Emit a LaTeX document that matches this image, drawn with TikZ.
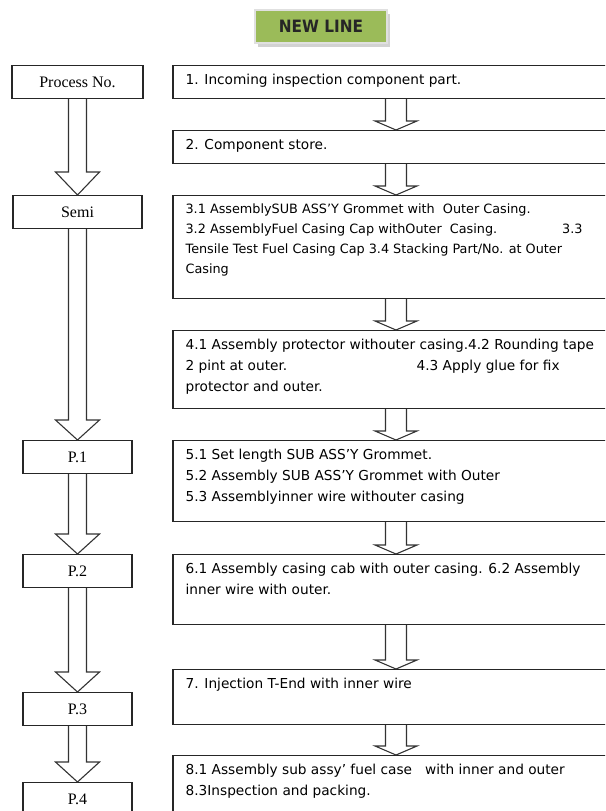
\documentclass[tikz,border=0pt]{standalone}
\usepackage{fontspec}
\setmainfont{Liberation Serif}
\newfontfamily\boxfont{DejaVu Sans}
\newfontfamily\headfont[FakeStretch=0.9]{DejaVu Sans}
\usetikzlibrary{calc,shadows}

\definecolor{titlegreen}{HTML}{9BBB59}

\tikzset{
    stepbox/.style={draw=black!85, line width=1.2pt, rectangle, inner sep=0pt, anchor=north},
    procbox/.style={stepbox, minimum height=33pt, font=\fontsize{16}{18}\selectfont},
    linebox/.style={stepbox, minimum width=446pt},
    steptext/.style={align=left, inner sep=0pt, anchor=north west,
        font=\boxfont\fontsize{13.7}{21}\selectfont},
    smalltext/.style={steptext, font=\boxfont\fontsize{12.8}{20}\selectfont},
    arrowbody/.style={draw=black!80, line width=1.1pt, line join=miter},
    titlebox/.style={fill=titlegreen, draw=white!88!black, line width=1.5pt,
        minimum width=132pt, minimum height=33pt, text=black!85,
        font=\headfont\bfseries\fontsize{17}{19}\selectfont,
        drop shadow={shadow xshift=3pt, shadow yshift=-4pt, fill=black!35}},
}

% hollow down arrow: from, to, shaft half width, head half width, head length
\newcommand{\blockarrow}[5]{%
    \draw[arrowbody] ($(#1)+(-#3,0)$) -- ($(#2)+(-#3,-#5)$) -- ($(#2)+(-#4,-#5)$) -- (#2)
        -- ($(#2)+(#4,-#5)$) -- ($(#2)+(#3,-#5)$) -- ($(#1)+(#3,0)$);}

\begin{document}
\begin{tikzpicture}[x=1pt, y=-1pt]
    \useasboundingbox (0,0) rectangle (605,811);
    \clip (0,0) rectangle (605,811);

    \node[titlebox] (title) at (321,26.5) {NEW LINE};

    % process numbers
    \node[procbox, minimum width=131pt] (pno) at (77.5,65) {Process No.};
    \node[procbox, minimum width=129pt] (semi) at (77.5,195) {Semi};
    \node[procbox, minimum width=109pt] (p1) at (77.5,440) {P.1};
    \node[procbox, minimum width=109pt] (p2) at (77.5,554) {P.2};
    \node[procbox, minimum width=109pt] (p3) at (77.5,692) {P.3};
    \node[procbox, minimum width=109pt] (p4) at (77.5,782) {P.4};

    \blockarrow{pno.south}{semi.north}{9}{22}{23}
    \blockarrow{semi.south}{p1.north}{9}{22}{20}
    \blockarrow{p1.south}{p2.north}{9}{22}{20}
    \blockarrow{p2.south}{p3.north}{9}{22}{20}
    \blockarrow{p3.south}{p4.north}{9}{22}{20}

    % steps
    \node[linebox, minimum height=33pt] (s1) at (396,65) {};
    \node[steptext] at ($(s1.north west)+(13,9)$) {1. Incoming inspection component part.};
    \node[linebox, minimum height=33pt] (s2) at (396,130) {};
    \node[steptext] at ($(s2.north west)+(13,9)$) {2. Component store.};
    \node[linebox, minimum height=103pt] (s3) at (396,195) {};
    \node[smalltext] at ($(s3.north west)+(13,9)$) {3.1 AssemblySUB ASS’Y Grommet with\ \ Outer Casing.\\
        \makebox[397pt][l]{3.2 AssemblyFuel Casing Cap withOuter\ \ Casing.\hfill 3.3}\\
        Tensile Test Fuel Casing Cap 3.4 Stacking Part/No. at Outer\\
        Casing};
    \node[linebox, minimum height=78pt] (s4) at (396,330) {};
    \node[steptext] at ($(s4.north west)+(13,9)$) {4.1 Assembly protector withouter casing.4.2 Rounding tape\\
        \makebox[231pt][l]{2 pint at outer.}4.3 Apply glue for fix\\
        protector and outer.};
    \node[linebox, minimum height=81pt] (s5) at (396,440) {};
    \node[steptext] at ($(s5.north west)+(13,9)$) {5.1 Set length SUB ASS’Y Grommet.\\
        5.2 Assembly SUB ASS’Y Grommet with Outer\\
        5.3 Assemblyinner wire withouter casing};
    \node[linebox, minimum height=70pt] (s6) at (396,554) {};
    \node[steptext] at ($(s6.north west)+(13,9)$) {6.1 Assembly casing cab with outer casing. 6.2 Assembly\\
        inner wire with outer.};
    \node[linebox, minimum height=55pt] (s7) at (396,669) {};
    \node[steptext] at ($(s7.north west)+(13,9)$) {7. Injection T-End with inner wire};
    \node[linebox, minimum height=70pt] (s8) at (396,755) {};
    \node[steptext] at ($(s8.north west)+(13,9)$) {8.1 Assembly sub assy’ fuel case\ \ \ with inner and outer\\
        8.3Inspection and packing.};

    \blockarrow{s1.south}{s2.north}{10.5}{21}{9}
    \blockarrow{s2.south}{s3.north}{10.5}{21}{9}
    \blockarrow{s3.south}{s4.north}{10.5}{21}{9}
    \blockarrow{s4.south}{s5.north}{10.5}{21}{9}
    \blockarrow{s5.south}{s6.north}{10.5}{21}{9}
    \blockarrow{s6.south}{s7.north}{10.5}{21}{9}
    \blockarrow{s7.south}{s8.north}{10.5}{21}{9}
\end{tikzpicture}
\end{document}
